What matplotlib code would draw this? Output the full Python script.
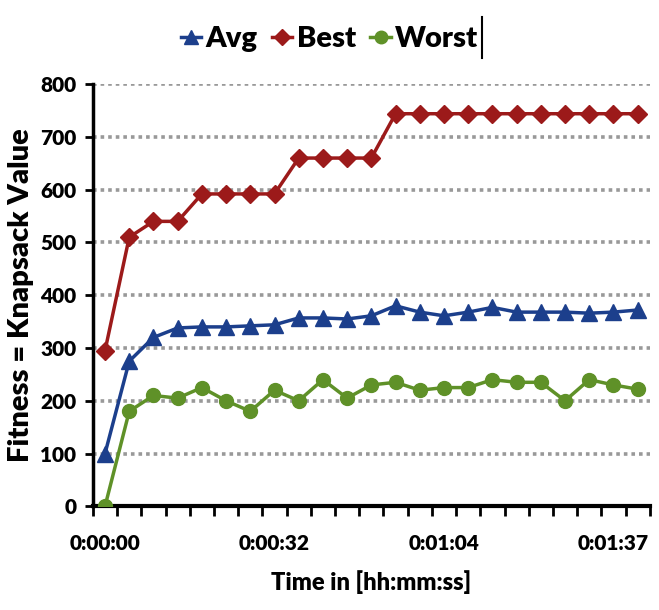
import numpy as np
import matplotlib
matplotlib.use("Agg")
import matplotlib.pyplot as plt
from matplotlib.lines import Line2D

# values (one point per sample)
avg = [100, 275, 320, 338, 340, 340, 342, 344, 357, 357, 355, 361,
       380, 368, 361, 368, 377, 368, 368, 368, 366, 368, 372]
best = [295, 510, 540, 540, 592, 592, 592, 592, 660, 660, 660, 660,
        744, 744, 744, 744, 744, 744, 744, 744, 744, 744, 744]
worst = [0, 180, 210, 205, 225, 200, 180, 220, 200, 240, 205, 230,
         235, 220, 225, 225, 240, 235, 235, 200, 240, 230, 222]
tick_idx = [0, 7, 14, 21]
tick_labels = ["0:00:00", "0:00:32", "0:01:04", "0:01:37"]

plt.rcParams['font.family'] = ['Lato', 'DejaVu Sans']
plt.rcParams['font.weight'] = 'heavy'

fig = plt.figure(figsize=(6.59, 6.10), dpi=100)
ax = fig.add_axes([0.141, 0.170, 0.845, 0.692])

x = np.arange(len(avg))
ax.plot(x, avg, color="#1c3f8c", lw=2.5, marker="^", ms=11, label="Avg", zorder=3)
ax.plot(x, best, color="#9c1a1a", lw=2.5, marker="D", ms=9, label="Best", zorder=3)
ax.plot(x, worst, color="#5f9128", lw=2.5, marker="o", ms=10, label="Worst", zorder=3)

ax.set_xlim(-0.5, len(avg) - 0.5)
ax.set_ylim(0, 800)
ax.set_yticks(range(0, 801, 100))
ax.yaxis.grid(True, color="#999999", linestyle=(0, (1, 1.1)), linewidth=2.6)
ax.set_axisbelow(True)

ax.set_xticks(tick_idx)
ax.set_xticklabels(tick_labels)
ax.set_xticks(np.arange(-0.5, len(avg)), minor=True)
ax.tick_params(axis="x", which="major", length=0, pad=20, labelsize=15)
ax.tick_params(axis="x", which="minor", length=7, width=2, direction="out")
ax.tick_params(axis="y", length=6, width=2, direction="out", labelsize=15, pad=6)

for s in ["top", "right"]:
    ax.spines[s].set_visible(False)
ax.spines["left"].set_linewidth(2.5)
ax.spines["bottom"].set_linewidth(3)

ax.set_ylabel("Fitness = Knapsack Value", fontsize=21, fontweight="heavy", labelpad=4)
ax.set_xlabel("Time in [hh:mm:ss]", fontsize=17, fontweight="heavy", labelpad=12)

leg = fig.legend(loc="upper center", bbox_to_anchor=(0.5, 1.0), ncol=3, frameon=False,
                 fontsize=21, handlelength=0.7, handletextpad=0.15, columnspacing=0.5,
                 markerscale=0.9)

# text cursor left after the legend in the original
fig.canvas.draw()
bb = leg.get_texts()[-1].get_window_extent().transformed(fig.transFigure.inverted())
cx = bb.x1 + 0.006
fig.add_artist(Line2D([cx, cx], [bb.y0 - 0.01, bb.y1 + 0.015], color="black", lw=1.5))

fig.savefig("out.png", dpi=100)
